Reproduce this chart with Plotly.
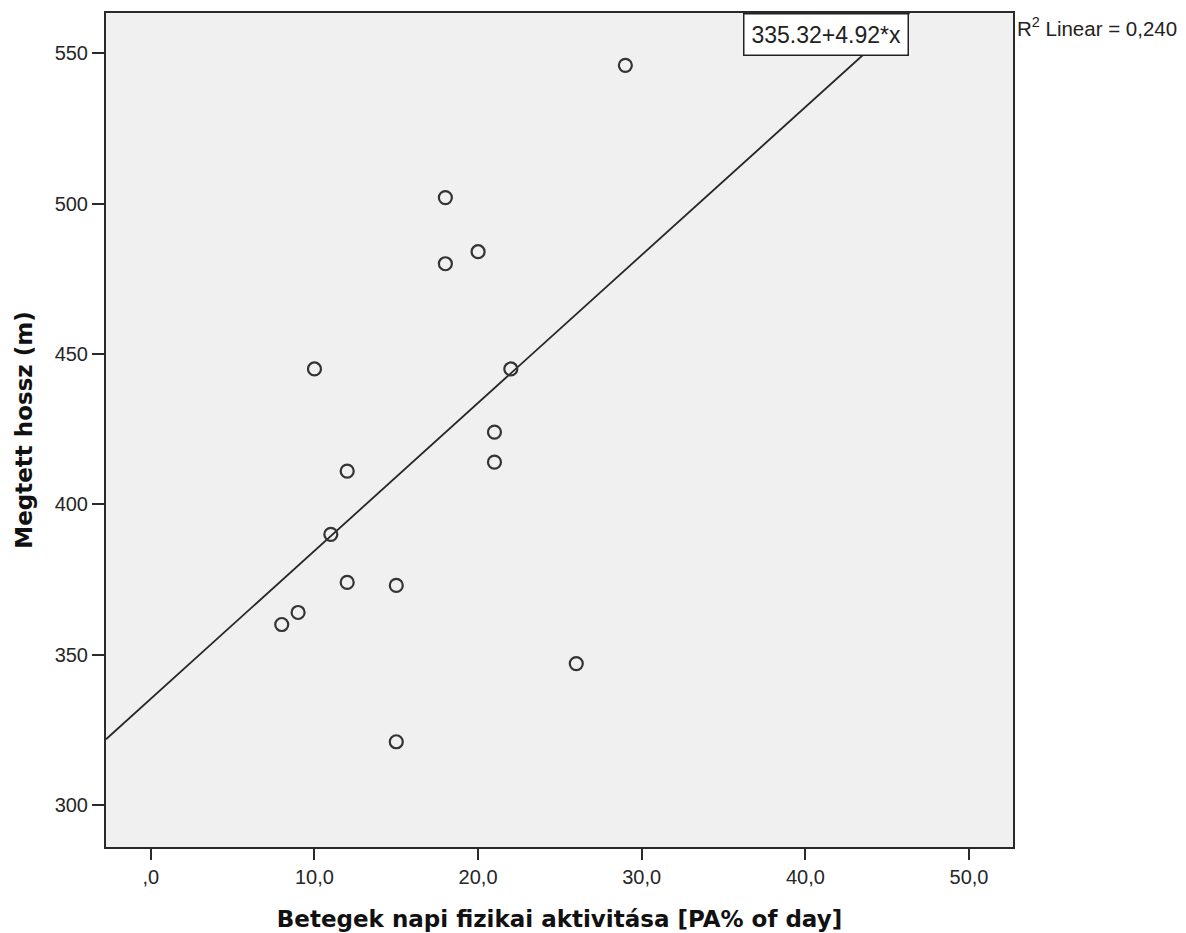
import plotly.graph_objects as go

# Data
pa_percent = [29, 18, 20, 18, 10, 22, 21, 21, 12, 11, 12, 15, 9, 8, 26, 15]
distance_m = [546, 502, 484, 480, 445, 445, 424, 414, 411, 390, 374, 373, 364, 360, 347, 321]

intercept = 335.32
slope = 4.92
r2_text = "R<sup>2</sup> Linear = 0,240"
eq_text = "335.32+4.92*x"

x_range = [-2.74, 52.69]
y_range = [286.0, 563.4]

x_ticks = [0, 10, 20, 30, 40, 50]
x_ticktext = [",0", "10,0", "20,0", "30,0", "40,0", "50,0"]
y_ticks = [300, 350, 400, 450, 500, 550]

x_title = "Betegek napi fizikai aktivitása [PA% of day]"
y_title = "Megtett hossz (m)"

# Fit line endpoints from the equation across the visible range
x_end = (y_range[1] - intercept) / slope
line_x = [x_range[0], x_end]
line_y = [intercept + slope * v for v in line_x]

fig = go.Figure()
fig.add_trace(go.Scatter(
    x=line_x, y=line_y, mode="lines",
    line=dict(color="#262626", width=1.8),
    hoverinfo="skip", showlegend=False,
))
fig.add_trace(go.Scatter(
    x=pa_percent, y=distance_m, mode="markers",
    marker=dict(symbol="circle-open", size=13, color="#333333",
                line=dict(width=2.2, color="#333333")),
    showlegend=False,
))

fig.add_annotation(
    x=x_end, xref="x", y=1, yref="paper",
    xanchor="right", yanchor="top",
    text=eq_text, showarrow=False,
    font=dict(family="Liberation Sans, Arial, sans-serif", size=23, color="#222222"),
    bgcolor="white", bordercolor="#222222", borderwidth=1.5, borderpad=7,
)
fig.add_annotation(
    x=1.002, xref="paper", y=0.983, yref="paper",
    xanchor="left", yanchor="middle",
    text=r2_text, showarrow=False,
    font=dict(family="Liberation Sans, Arial, sans-serif", size=20.5, color="#222222"),
)

axis_common = dict(
    showline=True, linecolor="#2a2a2a", linewidth=2, mirror=True,
    showgrid=False, zeroline=False,
    ticks="outside", tickwidth=2, tickcolor="#2a2a2a",
    tickfont=dict(family="Liberation Sans, Arial, sans-serif", size=20, color="#262626"),
    automargin=False,
)

fig.update_xaxes(
    range=x_range, tickvals=x_ticks, ticktext=x_ticktext, ticklen=11,
    title=dict(text=x_title, standoff=24,
               font=dict(family="DejaVu Sans, sans-serif", size=23, color="#111111", weight="bold")),
    **axis_common,
)
fig.update_yaxes(
    range=y_range, tickvals=y_ticks, ticklen=12,
    title=dict(text=y_title, standoff=16,
               font=dict(family="DejaVu Sans, sans-serif", size=23, color="#111111", weight="bold")),
    **axis_common,
)

# The page body adds an 8px offset, so margins are reduced accordingly
fig.update_layout(
    width=1170, height=925,
    margin=dict(l=98, r=165, t=5, b=86),
    plot_bgcolor="#f0f0f0", paper_bgcolor="white",
)

fig.write_html("out.html")
